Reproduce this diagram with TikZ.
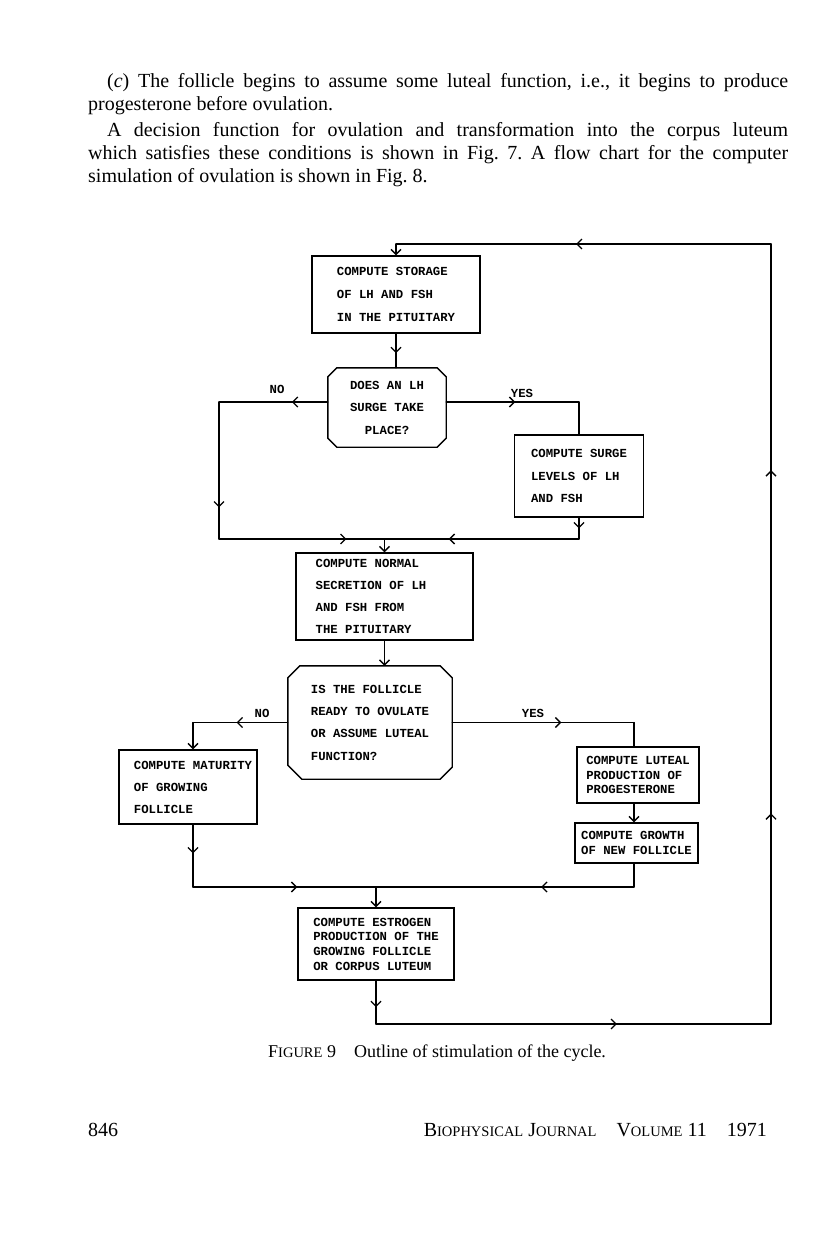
\documentclass[tikz,border=0pt]{standalone}
\usepackage{fontspec}
\setmainfont{Liberation Serif}
\newfontfamily\twfont{Liberation Mono}
\usetikzlibrary{arrows.meta,decorations.markings,calc}
\newcommand\myfakesc[1]{{\fontsize{14.5}{15}\selectfont #1}}
\frenchspacing
\tikzset{
 conn/.style={line width=1.3pt, line cap=round},
 arr/.style={postaction={decorate, decoration={markings, mark=at position #1 with {\arrow{Straight Barb[length=5pt,width=10pt]}}}}},
 tip/.style={-{Straight Barb[length=5pt,width=10pt]}},
 box/.style={draw, line width=1.4pt, inner sep=0pt, align=left},
 dec/.style={inner sep=0pt},
 tw/.style={font=\twfont\bfseries\fontsize{12.3}{#1}\selectfont},
 para/.style={font=\fontsize{20}{23}\selectfont, inner sep=0pt, anchor=base west},
 lbl/.style={tw=14, inner sep=0pt},
}
\begin{document}
\begin{tikzpicture}[x=1pt,y=-1pt]
\useasboundingbox (0,0) rectangle (816,1247);
\fill[white] (0,0) rectangle (816,1247);

% body text
\node[para] (l1) at (107,87) {\makebox[681pt][s]{(\textit{c}) The follicle begins to assume some luteal function, i.e., it begins to produce}};
\node[para] (l2) at (88,110) {progesterone before ovulation.};
\node[para] (l3) at (107,136) {\makebox[681pt][s]{A decision function for ovulation and transformation into the corpus luteum}};
\node[para] (l4) at (88,159) {\makebox[700pt][s]{which satisfies these conditions is shown in Fig. 7. A flow chart for the computer}};
\node[para] (l5) at (88,182) {simulation of ovulation is shown in Fig. 8.};

% boxes
\node[box, tw=23, minimum width=168pt, minimum height=77pt] (store) at (396,294.5) {COMPUTE STORAGE\\OF LH AND FSH\\IN THE PITUITARY};
\node[dec, tw=22.5, align=center, minimum width=118pt, minimum height=79pt] (dec1) at (387,407.5) {DOES AN LH\\SURGE TAKE\\PLACE?};
\draw[line width=1.4pt] ([xshift=9pt]dec1.north west) -- ([xshift=-9pt]dec1.north east) -- ([yshift=-9pt]dec1.north east) -- ([yshift=9pt]dec1.south east) -- ([xshift=-9pt]dec1.south east) -- ([xshift=9pt]dec1.south west) -- ([yshift=9pt]dec1.south west) -- ([yshift=-9pt]dec1.north west) -- cycle;
\node[box, tw=22.5, minimum width=129pt, minimum height=82pt] (surge) at (579,476) {COMPUTE SURGE\\LEVELS OF LH\\AND FSH};
\node[box, tw=22, minimum width=177pt, minimum height=87pt] (normal) at (384.5,596.5) {COMPUTE NORMAL\\SECRETION OF LH\rule{27pt}{0pt}\\AND FSH FROM\\THE PITUITARY};
\node[dec, tw=22.3, align=left, minimum width=164pt, minimum height=113pt] (dec2) at (370,722.5) {IS THE FOLLICLE\\READY TO OVULATE\\OR ASSUME LUTEAL\\FUNCTION?};
\draw[line width=1.4pt] ([xshift=12pt]dec2.north west) -- ([xshift=-12pt]dec2.north east) -- ([yshift=-12pt]dec2.north east) -- ([yshift=12pt]dec2.south east) -- ([xshift=-12pt]dec2.south east) -- ([xshift=14pt]dec2.south west) -- ([yshift=14pt]dec2.south west) -- ([yshift=-12pt]dec2.north west) -- cycle;
\node[box, tw=22, minimum width=138pt, minimum height=74pt] (mat) at (188,787) {\hspace*{10pt}COMPUTE MATURITY\\\hspace*{10pt}OF GROWING\\\hspace*{10pt}FOLLICLE};
\node[box, tw=14.5, minimum width=122pt, minimum height=56pt] (lut) at (638,775) {COMPUTE LUTEAL\\PRODUCTION OF\\PROGESTERONE};
\node[box, tw=15, minimum width=123pt, minimum height=40pt] (grow) at (636.5,843) {COMPUTE GROWTH\\OF NEW FOLLICLE};
\node[box, tw=14.7, minimum width=156pt, minimum height=72pt] (estr) at (376,944) {COMPUTE ESTROGEN\\PRODUCTION OF THE\\GROWING FOLLICLE\\OR CORPUS LUTEUM};

% labels
\node[lbl] (no1) at (277,389) {NO};
\node[lbl] (yes1) at (522,393) {YES};
\node[lbl] (no2) at (262,713) {NO};
\node[lbl] (yes2) at (533,713) {YES};

% coordinates
\coordinate (tl) at (store.north |- 0,244);
\coordinate (tr) at (771,244);
\coordinate (br) at (771,1024);
\coordinate (bl) at (estr.south |- 0,1024);
\coordinate (n1) at (219,402);
\coordinate (m1l) at (219,539);
\coordinate (j1) at (normal.north |- 0,539);
\coordinate (y1) at (surge.north |- 0,402);
\coordinate (s1) at (surge.south |- 0,539);
\coordinate (n2) at (193,722.5);
\coordinate (m2) at (193,887);
\coordinate (y2) at (634,722.5);
\coordinate (g1) at (634,887);
\coordinate (j2) at (estr.north |- 0,887);

% main loop
\draw[conn, arr=0.61] (estr.south) -- (bl);
\draw[conn, arr=0.61] (bl) -- (br);
\draw[conn, arr=0.27, arr=0.71] (br) -- (tr);
\draw[conn, arr=0.52] (tr) -- (tl);
\draw[conn, tip] (tl) -- (store.north);

% first decision
\draw[conn, arr=0.57] (store.south) -- (store.south |- dec1.north);
\draw[conn, arr=0.33] ([yshift=5.5pt]dec1.west) -- (n1);
\draw[conn, arr=0.77] (n1) -- (m1l);
\draw[conn, arr=0.77] (m1l) -- (j1);
\draw[conn, arr=0.52] ([yshift=5.5pt]dec1.east) -- (y1);
\draw[conn] (y1) -- (surge.north);
\draw[conn, arr=0.5] (surge.south) -- (s1);
\draw[conn, arr=0.67] (s1) -- (j1);
\draw[conn, tip] (j1) -- (normal.north);

% second decision
\draw[conn, tip] (normal.south) -- (normal.south |- dec2.north);
\draw[conn, arr=0.54] (dec2.west) -- (n2);
\draw[conn, tip] (n2) -- (n2 |- mat.north);
\draw[conn, arr=0.6] (dec2.east) -- (y2);
\draw[conn] (y2) -- (y2 |- lut.north);
\draw[conn, tip] (y2 |- lut.south) -- (y2 |- grow.north);
\draw[conn] (y2 |- grow.south) -- (g1);
\draw[conn, arr=0.36] (g1) -- (j2);
\draw[conn, arr=0.46] (n2 |- mat.south) -- (m2);
\draw[conn, arr=0.57] (m2) -- (j2);
\draw[conn, tip] (j2) -- (estr.north);

% caption and footer
\node[para, font=\fontsize{18}{20}\selectfont] (cap) at (268,1057) {F\myfakesc{IGURE} 9\quad Outline of stimulation of the cycle.};
\node[para] (pg) at (88,1136) {846};
\node[para, anchor=base east] (jr) at (767,1136) {B\myfakesc{IOPHYSICAL} J\myfakesc{OURNAL}\quad V\myfakesc{OLUME} 11\quad 1971};
\end{tikzpicture}
\end{document}
